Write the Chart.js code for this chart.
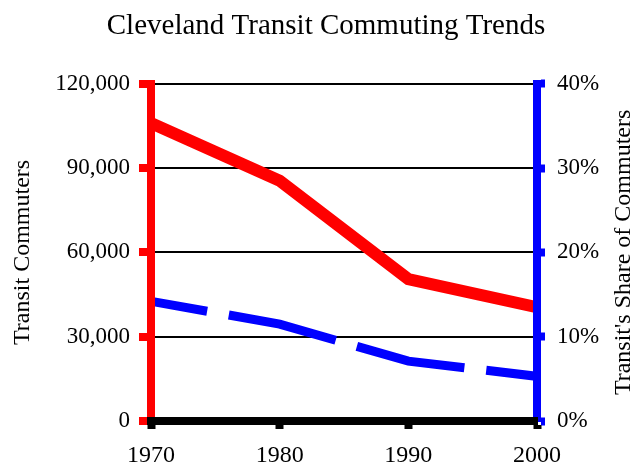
<!DOCTYPE html>
<html>
<head>
<meta charset="utf-8">
<script src="https://cdn.jsdelivr.net/npm/chart.js@4/dist/chart.umd.min.js"></script>
<style>
  body { margin: 0; background: #fff; }
</style>
</head>
<body>
<canvas id="transitChart" width="635" height="464"></canvas>
<script>
// census years along the x-axis
var years = [1970, 1980, 1990, 2000];
// transit commuters (left axis)
var commuters = [106000, 85500, 50500, 40500];
// transit's share of commuters, percent (right axis)
var share = [14.2, 11.5, 7.1, 5.3];

var serif = '"Liberation Serif", "Times New Roman", serif';

function points(values) {
  return years.map(function (yr, i) { return { x: yr, y: values[i] }; });
}

// rotated axis titles, both read bottom to top
var axisTitles = {
  id: 'axisTitles',
  afterDraw: function (chart) {
    var ctx = chart.ctx;
    var mid = (chart.chartArea.top + chart.chartArea.bottom) / 2;
    ctx.save();
    ctx.fillStyle = '#000';
    ctx.font = '24px ' + serif;
    ctx.textAlign = 'center';
    ctx.textBaseline = 'middle';
    [[23, 'Transit Commuters'], [624, "Transit's Share of Commuters"]].forEach(function (t) {
      ctx.save();
      ctx.translate(t[0], mid);
      ctx.rotate(-Math.PI / 2);
      ctx.fillText(t[1], 0, 0);
      ctx.restore();
    });
    ctx.restore();
  }
};

Chart.defaults.color = '#000';
Chart.defaults.font.family = serif;

var ctx = document.getElementById('transitChart');
var myChart = new Chart(ctx, {
  type: 'line',
  data: {
    datasets: [
      {
        data: points(commuters),
        yAxisID: 'y',
        borderColor: '#ff0000',
        borderWidth: 12,
        pointRadius: 0,
        clip: { left: -4, right: -4, top: 10, bottom: 10 }
      },
      {
        data: points(share),
        yAxisID: 'y1',
        borderColor: '#0000ff',
        borderWidth: 9,
        borderDash: [110, 22],
        borderDashOffset: 53,
        pointRadius: 0,
        clip: { left: -4, right: -4, top: 10, bottom: 10 }
      }
    ]
  },
  options: {
    responsive: false,
    animation: false,
    layout: { padding: { left: 17, top: 0, right: 0, bottom: 0 } },
    plugins: {
      legend: { display: false },
      tooltip: { enabled: false },
      title: {
        display: true,
        text: 'Cleveland Transit Commuting Trends',
        font: { size: 29, weight: 'normal' },
        padding: { top: 9, bottom: 40 }
      }
    },
    scales: {
      y: {
        position: 'left',
        min: 0,
        max: 120000,
        afterFit: function (s) { s.width = 134; },
        ticks: {
          stepSize: 30000,
          padding: 9,
          font: { size: 23 },
          callback: function (v) { return v.toLocaleString('en-US'); }
        },
        grid: { color: '#000', lineWidth: 2, tickColor: '#ff0000', tickWidth: 8, tickLength: 12 },
        border: { color: '#ff0000', width: 8 }
      },
      y1: {
        position: 'right',
        min: 0,
        max: 40,
        afterFit: function (s) { s.width = 98; },
        ticks: {
          stepSize: 10,
          padding: 12,
          font: { size: 23 },
          callback: function (v) { return v + '%'; }
        },
        grid: { drawOnChartArea: false, tickColor: '#0000ff', tickWidth: 8, tickLength: 8 },
        border: { color: '#0000ff', width: 8 }
      },
      x: {
        type: 'linear',
        position: 'bottom',
        min: 1970,
        max: 2000,
        afterFit: function (s) { s.height = 43; },
        ticks: { stepSize: 10, padding: 12, font: { size: 24 }, callback: function (v) { return String(v); } },
        grid: { drawOnChartArea: false, tickColor: '#000', tickWidth: 8, tickLength: 8 },
        border: { color: '#000', width: 8 }
      }
    }
  },
  plugins: [axisTitles]
});
</script>
</body>
</html>
